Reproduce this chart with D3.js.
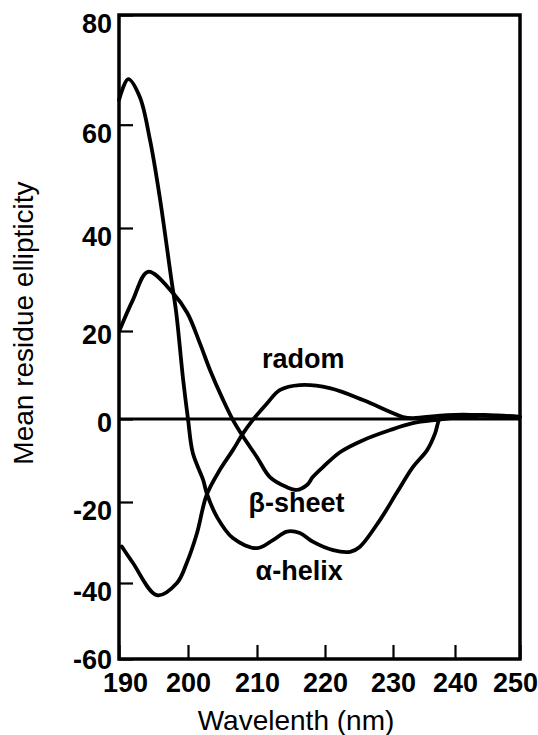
<!DOCTYPE html>
<html>
<head>
<meta charset="UTF-8" />
<title>CD spectra</title>
<style>
  body { margin: 0; background: #fff; }
  svg { display: block; font-family: "Liberation Sans", Arial, sans-serif; }
  .axis text { font-size: 27px; font-weight: bold; fill: #000; }
  .axis .domain { stroke: none; }
  .axis .tick line { stroke: #000; stroke-width: 2.2px; }
  .frame { fill: none; stroke: #000; stroke-width: 3.5px; }
  .zero { stroke: #000; stroke-width: 3px; }
  .curve { fill: none; stroke: #000; stroke-width: 3.8px; stroke-linejoin: round; stroke-linecap: round; }
  .curve-label { font-size: 27px; font-weight: bold; text-anchor: middle; }
  .title { font-size: 28px; text-anchor: middle; }
</style>
<script src="https://d3js.org/d3.v7.min.js"></script>
</head>
<body>
<div id="chart"></div>
<script>
var width = 538, height = 735;

// tick values (the original axes are not evenly spaced, so the scales are piecewise)
var xTicks = [190, 200, 210, 220, 230, 240, 250];
var yTicks = [-60, -40, -20, 0, 20, 40, 60, 80];

// curves: wavelength (nm) / mean residue ellipticity
var helixWl  = [190.0, 191.35, 193.0, 194.5, 195.9, 197.6, 198.3, 199.3, 200.0, 200.7, 202.2, 202.7, 204.2, 206.5, 210.0, 212.35, 214.4, 216.3, 218.2, 221.2, 223.7, 225.1, 228.1, 230.6, 233.2, 235.5, 236.8, 237.3, 237.6, 240.8, 245, 250];
var helixVal = [64.5, 68.3, 65.1, 57.0, 46.0, 29.9, 23.5, 8.9, 0.0, -8.2, -14.7, -17.8, -23.7, -28.9, -31.4, -29.4, -27.3, -27.65, -29.8, -31.9, -32.3, -31.1, -24.4, -17.8, -11.6, -7.5, -3.4, -0.7, 0.2, 0.7, 0.9, 0.5];

var sheetWl  = [190.1, 192.0, 194.2, 197.8, 199.9, 201.7, 203.2, 205.1, 206.5, 208.0, 210.0, 211.9, 214.35, 215.8, 217.35, 218.2, 219.7, 222.2, 225.6, 229.6, 233.2, 237.1, 243.8, 250];
var sheetVal = [20.2, 26.0, 31.5, 27.4, 23.5, 17.3, 11.1, 4.3, -0.2, -4.3, -9.2, -14.0, -16.4, -17.1, -15.9, -14.0, -11.6, -8.0, -5.1, -2.65, -1.0, -0.2, 0.7, 0.5];

var randomWl  = [190.4, 192.0, 195.5, 198.4, 199.8, 201.3, 202.7, 204.6, 206.5, 208.0, 209.4, 211.5, 213.4, 216.3, 220.7, 225.6, 229.6, 231.6, 233.2, 238.7, 243.8, 249.7];
var randomVal = [-31.0, -35.0, -43.2, -40.0, -35.1, -27.7, -18.3, -12.3, -7.5, -3.4, -0.2, 3.6, 6.6, 7.7, 7.0, 4.3, 1.6, 0.45, 0.2, 0.9, 0.9, 0.2];

var labelNames = ["radom", "\u03b2-sheet", "\u03b1-helix"];
var labelWl    = [216.8, 215.8, 216.2];
var labelVal   = [11.6, -22.5, -39.3];

var xTitle = "Wavelenth (nm)";
var yTitle = "Mean residue ellipticity";

var x = d3.scaleLinear()
    .domain(xTicks)
    .range([119, 188, 257, 325, 393, 455, 520]);

var y = d3.scaleLinear()
    .domain(yTicks)
    .range([659, 583, 502, 419, 331, 228, 124.7, 15]);

var svg = d3.select("#chart").append("svg")
    .attr("width", width)
    .attr("height", height);

// zero line
svg.append("line")
    .attr("class", "zero")
    .attr("x1", x(190)).attr("x2", x(250))
    .attr("y1", y(0)).attr("y2", y(0));

// plain hyphen for negatives, like the original
var fmt = function(d) { return String(d); };

// axes, ticks pointing inward
var xAxis = svg.append("g")
    .attr("class", "axis")
    .attr("transform", "translate(0," + y(-60) + ")")
    .call(d3.axisBottom(x).tickValues(xTicks).tickFormat(fmt)
      .tickSize(-14).tickSizeOuter(0).tickPadding(14));
xAxis.selectAll("text").attr("dx", function(d) {
  return d === 190 ? 6 : d === 250 ? -5 : 0;
});

var yAxis = svg.append("g")
    .attr("class", "axis")
    .attr("transform", "translate(" + x(190) + ",0)")
    .call(d3.axisLeft(y).tickValues(yTicks).tickFormat(fmt)
      .tickSize(-14).tickSizeOuter(0).tickPadding(7));
yAxis.selectAll("text").attr("dy", function(d) {
  if (d === -60) return "0.36em";
  if (d === 0 || d === 20) return "0.45em";
  return "0.66em";
});

// frame
svg.append("rect")
    .attr("class", "frame")
    .attr("x", x(190))
    .attr("y", y(80))
    .attr("width", x(250) - x(190))
    .attr("height", y(-60) - y(80));

var line = d3.line()
    .x(function(d) { return x(d[0]); })
    .y(function(d) { return y(d[1]); })
    .curve(d3.curveCatmullRom.alpha(0.5));

var series = [
  d3.zip(helixWl, helixVal),
  d3.zip(sheetWl, sheetVal),
  d3.zip(randomWl, randomVal)
];

svg.selectAll(".curve")
    .data(series)
    .enter().append("path")
    .attr("class", "curve")
    .attr("d", line);

svg.selectAll(".curve-label")
    .data(labelNames)
    .enter().append("text")
    .attr("class", "curve-label")
    .attr("x", function(d, i) { return x(labelWl[i]); })
    .attr("y", function(d, i) { return y(labelVal[i]); })
    .text(function(d) { return d; });

// axis titles
svg.append("text")
    .attr("class", "title")
    .attr("x", 296)
    .attr("y", 730)
    .text(xTitle);

svg.append("text")
    .attr("class", "title")
    .attr("transform", "translate(33,323)rotate(-90)")
    .text(yTitle);
</script>
</body>
</html>
